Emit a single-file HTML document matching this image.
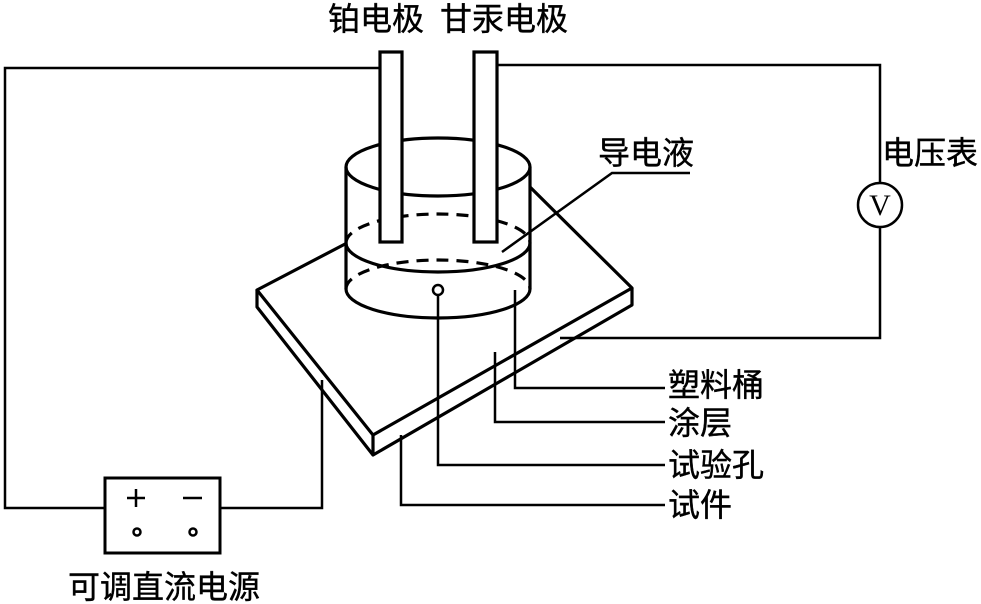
<!DOCTYPE html>
<html><head><meta charset="utf-8"><style>
html,body{margin:0;padding:0;background:#fff;}
svg{display:block}
text{font-family:"Liberation Sans","Noto Sans CJK SC",sans-serif;fill:#000;stroke:#000;stroke-width:0.4}
</style></head><body>
<svg width="981" height="604" viewBox="0 0 981 604" xmlns="http://www.w3.org/2000/svg">
<g fill="none" stroke="#000" stroke-width="2.5">
<polyline points="380,68 5,68 5,508 105,508"/>
<polyline points="220,508 322,508 322,380"/>
<polyline points="497,65 880,65 880,183"/>
<polyline points="880,227 880,338 560,338"/>
<circle cx="880" cy="205" r="22"/>
<rect x="105" y="478" width="115" height="75" stroke-width="3"/>
<line x1="127" y1="498" x2="145" y2="498"/><line x1="136" y1="489" x2="136" y2="507"/>
<line x1="183" y1="498" x2="202" y2="498"/>
<circle cx="137" cy="532" r="3.5" stroke-width="2.5"/><circle cx="193" cy="532" r="3.5" stroke-width="2.5"/>
<g stroke-width="3.2" stroke-linejoin="round">
<polyline points="347,243 257,290 373,435 632,288 530,187"/>
<polyline points="257,290 257,307 373,455 632,305 632,288"/>
<line x1="373" y1="435" x2="373" y2="455"/>
</g>
<g stroke-width="3.2">
<ellipse cx="438" cy="167" rx="92" ry="29" fill="#fff"/>
<line x1="346" y1="167" x2="346" y2="289"/>
<line x1="530" y1="167" x2="530" y2="289"/>
<path d="M346,243 A92,29 0 0 0 530,243"/>
<path d="M346,289 A92,29 0 0 0 530,289"/>
<path d="M346,243 A92,29 0 0 1 530,243" stroke-dasharray="12,8"/>
<path d="M346,289 A92,29 0 0 1 530,289" stroke-dasharray="12,8"/>
<rect x="380" y="52" width="22" height="190" fill="#fff"/>
<rect x="474" y="52" width="23" height="190" fill="#fff"/>
</g>
<circle cx="438" cy="290" r="5" stroke-width="2.5" fill="#fff"/>
<polyline points="438,295 438,465 665,465"/>
<polyline points="515,290 515,388 665,388"/>
<polyline points="495,352 495,422 665,422"/>
<polyline points="401,435 401,505 665,505"/>
<polyline points="502,252 612,173 690,173"/>
</g>
<g font-size="32">
<text x="328" y="30">铂电极</text>
<text x="440" y="30">甘汞电极</text>
<text x="598" y="164">导电液</text>
<text x="882" y="164">电压表</text>
<text x="668" y="396">塑料桶</text>
<text x="668" y="434">涂层</text>
<text x="668" y="476">试验孔</text>
<text x="668" y="516">试件</text>
<text x="68" y="598">可调直流电源</text>
</g>
<text x="880" y="215" font-size="30" text-anchor="middle" style="font-family:'Liberation Serif',serif;stroke-width:0">V</text>
</svg>
</body></html>
